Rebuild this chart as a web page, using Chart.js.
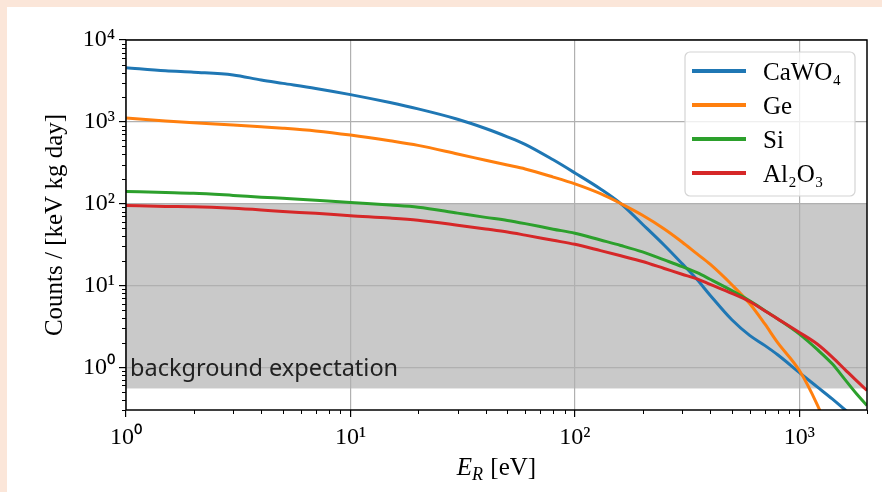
<!DOCTYPE html>
<html>
<head>
<meta charset="utf-8">
<script src="https://cdn.jsdelivr.net/npm/chart.js@4.4.1/dist/chart.umd.min.js"></script>
<style>
	html, body { margin: 0; padding: 0; }
	body { width: 882px; height: 492px; background: #fbe6d9; position: relative; overflow: hidden; }
	#wrap { position: absolute; left: 7px; top: 7px; width: 875px; height: 485px; background: #fff; }
</style>
</head>
<body>
<div id="wrap"><canvas id="recoilChart" width="875" height="485"></canvas></div>
<script>
// recoil energy grid [eV]
var energy = [1, 1.5, 2, 3, 4, 5, 7, 10, 15, 20, 30, 40, 50, 60, 80, 100, 130, 160, 200, 250, 300, 350, 400, 500, 600, 700, 800, 1000, 1200, 1400, 1600, 1800, 2000];

// counts / [keV kg day]
var caWO4 = [4570, 4200, 4030, 3740, 3240, 2950, 2560, 2150, 1718, 1438, 1075, 829, 656, 531, 343, 237, 151, 100, 56, 31, 18.5, 11.8, 7.6, 3.8, 2.45, 1.85, 1.42, 0.86, 0.575, 0.41, 0.3, 0.23, 0.18];
var ge = [1110, 1023, 972, 914, 871, 836, 774, 689, 586, 515, 404, 339, 296, 265, 211, 174, 132, 100, 72, 49, 34, 24.3, 18.2, 10.2, 6.0, 3.4, 2.0, 0.91, 0.35, 0.13, null, null, null];
var si = [141, 137, 134, 126, 120, 116, 110, 103, 96, 90.5, 76.5, 67.9, 62.2, 56.9, 48.7, 43.5, 35.9, 30.8, 25.7, 20.5, 17, 14.3, 11.9, 8.65, 6.5, 4.95, 3.9, 2.54, 1.65, 1.1, 0.70, 0.47, 0.34];
var al2O3 = [95, 92.5, 91.5, 87.5, 83.5, 80, 76, 71, 66.5, 62.5, 54.5, 49, 45, 41.2, 35.6, 31.8, 26.6, 23, 19.6, 16.1, 13.7, 12, 10.3, 8.0, 6.35, 4.9, 3.9, 2.66, 1.92, 1.33, 0.93, 0.68, 0.52];

var seriesNames = ['CaWO₄', 'Ge', 'Si', 'Al₂O₃'];
var seriesColors = ['#1f77b4', '#ff7f0e', '#2ca02c', '#d62728'];

var xRange = [1, 2000];
var yRange = [0.3, 10000];
var bandRange = [0.55, 100];
var bandLabel = 'background expectation';

var sup = ['⁰', '¹', '²', '³', '⁴', '⁵'];

function isDecade(v) {
	var l = Math.log10(v);
	return Math.abs(l - Math.round(l)) < 1e-9;
}

// matplotlib style log ticks: 1..9 x 10^n
function logTicks(min, max) {
	var out = [];
	for (var e = Math.floor(Math.log10(min)); e <= Math.ceil(Math.log10(max)); e++) {
		for (var m = 1; m < 10; m++) {
			var v = parseFloat((m * Math.pow(10, e)).toPrecision(6));
			if (v >= min * (1 - 1e-9) && v <= max * (1 + 1e-9))
				out.push({value: v, major: isDecade(v)});
		}
	}
	return out;
}

function decadeLabel(v) {
	return isDecade(v) ? '10' + sup[Math.round(Math.log10(v))] : '';
}

let makeSet = function(vals, i) {
	return {
		label: seriesNames[i],
		data: energy.map(function(e, k) { return {x: e, y: vals[k]}; }),
		borderColor: seriesColors[i],
		backgroundColor: seriesColors[i],
		borderWidth: 3,
		pointRadius: 0,
		cubicInterpolationMode: 'monotone',
		order: 3 - i,
		clip: 0
	};
};

var gridColor = function(c) {
	return (c.tick && isDecade(c.tick.value)) ? '#b0b0b0' : 'rgba(0,0,0,0)';
};
var tickColor = function(c) {
	return (c.tick && isDecade(c.tick.value)) ? '#000' : 'rgba(0,0,0,0)';
};

var decor = {
	id: 'decor',
	beforeDraw: function(chart) {
		var ctx = chart.ctx, a = chart.chartArea, y = chart.scales.y;
		var top = y.getPixelForValue(bandRange[1]);
		var bot = y.getPixelForValue(bandRange[0]);
		ctx.save();
		ctx.fillStyle = '#c9c9c9';
		ctx.fillRect(a.left, top, a.right - a.left, bot - top);
		ctx.restore();
	},
	beforeDatasetsDraw: function(chart) {
		var ctx = chart.ctx, a = chart.chartArea, y = chart.scales.y;
		ctx.save();
		ctx.fillStyle = '#222';
		ctx.font = '23.5px "Noto Sans"';
		ctx.textBaseline = 'alphabetic';
		ctx.fillText(bandLabel, a.left + 4, y.getPixelForValue(1) + 9);
		ctx.restore();
	},
	afterDatasetsDraw: function(chart) {
		var ctx = chart.ctx, a = chart.chartArea, x = chart.scales.x, y = chart.scales.y;
		ctx.save();
		ctx.strokeStyle = '#000';
		ctx.lineWidth = 1;
		// minor ticks
		ctx.beginPath();
		x.ticks.forEach(function(t) {
			if (t.major) return;
			var px = Math.round(x.getPixelForValue(t.value)) + 0.5;
			ctx.moveTo(px, a.bottom); ctx.lineTo(px, a.bottom + 4);
		});
		y.ticks.forEach(function(t) {
			if (t.major) return;
			var py = Math.round(y.getPixelForValue(t.value)) + 0.5;
			ctx.moveTo(a.left - 4, py); ctx.lineTo(a.left, py);
		});
		ctx.stroke();
		// frame
		ctx.lineWidth = 1.5;
		ctx.strokeRect(a.left, a.top, a.right - a.left, a.bottom - a.top);
		ctx.restore();
	},
	afterDraw: function(chart) {
		var ctx = chart.ctx, a = chart.chartArea;
		ctx.save();

		// x axis title: E_R [eV]
		ctx.fillStyle = '#000';
		ctx.textBaseline = 'alphabetic';
		var cx = (a.left + a.right) / 2, by = a.bottom + 65;
		ctx.font = 'italic 25px "Liberation Serif"';
		var wE = ctx.measureText('E').width;
		ctx.font = 'italic 18px "Liberation Serif"';
		var wR = ctx.measureText('R').width;
		ctx.font = '25px "Liberation Serif"';
		var wU = ctx.measureText(' [eV]').width;
		var sx = cx - (wE + wR + 1 + wU) / 2;
		ctx.font = 'italic 25px "Liberation Serif"';
		ctx.fillText('E', sx, by);
		ctx.font = 'italic 18px "Liberation Serif"';
		ctx.fillText('R', sx + wE, by + 5);
		ctx.font = '25px "Liberation Serif"';
		ctx.fillText(' [eV]', sx + wE + wR + 1, by);

		// legend box
		var w = 170, h = 144, x0 = a.right - 12 - w, y0 = a.top + 12;
		ctx.beginPath();
		ctx.roundRect(x0, y0, w, h, 5);
		ctx.fillStyle = 'rgba(255,255,255,0.8)';
		ctx.fill();
		ctx.strokeStyle = '#d4d4d4';
		ctx.lineWidth = 1.2;
		ctx.stroke();
		ctx.font = '25px "Liberation Serif"';
		chart.data.datasets.forEach(function(ds, i) {
			var ly = y0 + 19 + i * 34;
			ctx.strokeStyle = ds.borderColor;
			ctx.lineWidth = 4;
			ctx.beginPath();
			ctx.moveTo(x0 + 7, ly);
			ctx.lineTo(x0 + 61, ly);
			ctx.stroke();
			ctx.fillStyle = '#000';
			ctx.fillText(ds.label, x0 + 78, ly + 9);
		});
		ctx.restore();
	}
};

Chart.defaults.font.family = '"Liberation Serif", serif';
Chart.defaults.color = '#000';

var ctx = document.getElementById('recoilChart');
var recoilChart = new Chart(ctx, {
	type: 'line',
	data: {
		datasets: [makeSet(caWO4, 0), makeSet(ge, 1), makeSet(si, 2), makeSet(al2O3, 3)]
	},
	options: {
		responsive: false,
		animation: false,
		layout: { padding: { top: 33, right: 15, bottom: 0, left: 0 } },
		plugins: { legend: { display: false }, tooltip: { enabled: false } },
		scales: {
			x: {
				type: 'logarithmic',
				min: xRange[0],
				max: xRange[1],
				afterBuildTicks: function(s) { s.ticks = logTicks(s.min, s.max); },
				afterFit: function(s) { s.height = 82; },
				border: { display: false },
				grid: { color: gridColor, lineWidth: 1.2, tickColor: tickColor, tickLength: 7, tickWidth: 1.2 },
				ticks: { autoSkip: false, maxRotation: 0, padding: 6, font: { size: 24 }, callback: decadeLabel },
				title: { display: false }
			},
			y: {
				type: 'logarithmic',
				min: yRange[0],
				max: yRange[1],
				afterBuildTicks: function(s) { s.ticks = logTicks(s.min, s.max); },
				afterFit: function(s) { s.width = 119; },
				border: { display: false },
				grid: { color: gridColor, lineWidth: 1.2, tickColor: tickColor, tickLength: 7, tickWidth: 1.2 },
				ticks: { autoSkip: false, padding: 4, font: { size: 24 }, callback: decadeLabel },
				title: { display: true, text: 'Counts / [keV kg day]', font: { size: 25 }, padding: { top: 33, bottom: 0 } }
			}
		}
	},
	plugins: [decor]
});
</script>
</body>
</html>
